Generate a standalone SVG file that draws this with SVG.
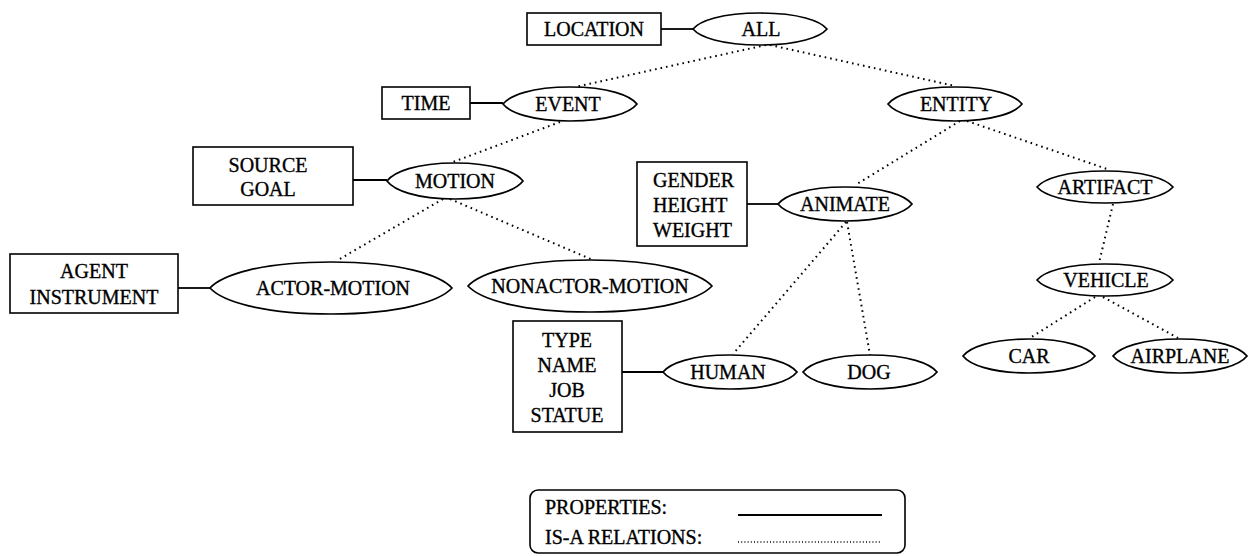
<svg xmlns="http://www.w3.org/2000/svg" width="1250" height="556" viewBox="0 0 1250 556">
<style>
text{font-family:"Liberation Serif","Times New Roman",serif;font-size:20px;fill:#000;stroke:#000;stroke-width:0.35}
.c{text-anchor:middle}
.box{fill:#fff;stroke:#000;stroke-width:1.6}
.lens{fill:#fff;stroke:#000;stroke-width:1.7}
.prop{stroke:#000;stroke-width:1.8;fill:none}
.isa{stroke:#000;stroke-width:2;stroke-dasharray:1.6 4;fill:none}
</style>
<rect width="1250" height="556" fill="#fff"/>
<g id="connectors">
<line class="isa" x1="766" y1="45" x2="575" y2="87"/>
<line class="isa" x1="770" y1="45" x2="955" y2="86"/>
<line class="isa" x1="560" y1="122" x2="453" y2="162"/>
<line class="isa" x1="960" y1="121" x2="857" y2="184"/>
<line class="isa" x1="967" y1="121" x2="1110" y2="170"/>
<line class="isa" x1="443" y1="199" x2="338" y2="260"/>
<line class="isa" x1="450" y1="199" x2="593" y2="260"/>
<line class="isa" x1="846" y1="222" x2="733" y2="354"/>
<line class="isa" x1="847" y1="222" x2="870" y2="355"/>
<line class="isa" x1="1113" y1="204" x2="1099" y2="263"/>
<line class="isa" x1="1095" y1="297" x2="1030" y2="338"/>
<line class="isa" x1="1103" y1="297" x2="1178" y2="338"/>
<line class="prop" x1="661" y1="29" x2="693" y2="29"/>
<line class="prop" x1="470" y1="103" x2="503" y2="103"/>
<line class="prop" x1="353" y1="180" x2="387" y2="180"/>
<line class="prop" x1="178" y1="288" x2="210" y2="288"/>
<line class="prop" x1="747" y1="204" x2="778" y2="204"/>
<line class="prop" x1="622" y1="372" x2="663" y2="372"/>
</g>
<g id="location"><rect class="box" x="527" y="13" width="134" height="32"/><text class="c" x="594" y="36">LOCATION</text></g>
<g id="all"><path class="lens" transform="translate(760,29)" d="M-67,0 C-60.3,-8 -38.9,-16 0,-16 C38.9,-16 60.3,-8 67,0 C60.3,8 38.9,16 0,16 C-38.9,16 -60.3,8 -67,0Z"/><text class="c" x="761" y="36">ALL</text></g>
<g id="time"><rect class="box" x="382" y="87" width="88" height="32"/><text class="c" x="426" y="110">TIME</text></g>
<g id="event"><path class="lens" transform="translate(570,104)" d="M-67,0 C-60.3,-8.5 -38.9,-17 0,-17 C38.9,-17 60.3,-8.5 67,0 C60.3,8.5 38.9,17 0,17 C-38.9,17 -60.3,8.5 -67,0Z"/><text class="c" x="568" y="111">EVENT</text></g>
<g id="entity"><path class="lens" transform="translate(955,104)" d="M-67,0 C-60.3,-8.5 -38.9,-17 0,-17 C38.9,-17 60.3,-8.5 67,0 C60.3,8.5 38.9,17 0,17 C-38.9,17 -60.3,8.5 -67,0Z"/><text class="c" x="956" y="111">ENTITY</text></g>
<g id="source-goal"><rect class="box" x="193" y="147" width="160" height="58"/><text class="c" x="268" y="172">SOURCE</text><text class="c" x="268" y="196">GOAL</text></g>
<g id="motion"><path class="lens" transform="translate(455,181)" d="M-68,0 C-61.2,-9 -39.4,-18 0,-18 C39.4,-18 61.2,-9 68,0 C61.2,9 39.4,18 0,18 C-39.4,18 -61.2,9 -68,0Z"/><text class="c" x="455" y="188">MOTION</text></g>
<g id="gender-height-weight"><rect class="box" x="637" y="162" width="110" height="84"/><text x="653" y="187">GENDER</text><text x="653" y="212">HEIGHT</text><text x="653" y="237">WEIGHT</text></g>
<g id="animate"><path class="lens" transform="translate(845,204)" d="M-67,0 C-60.3,-8.5 -38.9,-17 0,-17 C38.9,-17 60.3,-8.5 67,0 C60.3,8.5 38.9,17 0,17 C-38.9,17 -60.3,8.5 -67,0Z"/><text class="c" x="845" y="211">ANIMATE</text></g>
<g id="artifact"><path class="lens" transform="translate(1105,187)" d="M-68,0 C-61.2,-8 -39.4,-16 0,-16 C39.4,-16 61.2,-8 68,0 C61.2,8 39.4,16 0,16 C-39.4,16 -61.2,8 -68,0Z"/><text class="c" x="1105" y="194">ARTIFACT</text></g>
<g id="agent-instrument"><rect class="box" x="10" y="254" width="168" height="59"/><text class="c" x="94" y="278">AGENT</text><text class="c" x="94" y="304">INSTRUMENT</text></g>
<g id="actor-motion"><path class="lens" transform="translate(331,288)" d="M-121,0 C-108.9,-13 -70.2,-26 0,-26 C70.2,-26 108.9,-13 121,0 C108.9,13 70.2,26 0,26 C-70.2,26 -108.9,13 -121,0Z"/><text class="c" x="333" y="295">ACTOR-MOTION</text></g>
<g id="nonactor-motion"><path class="lens" transform="translate(590,286)" d="M-122,0 C-109.8,-13 -70.8,-26 0,-26 C70.8,-26 109.8,-13 122,0 C109.8,13 70.8,26 0,26 C-70.8,26 -109.8,13 -122,0Z"/><text class="c" x="590" y="293">NONACTOR-MOTION</text></g>
<g id="vehicle"><path class="lens" transform="translate(1105,280)" d="M-68,0 C-61.2,-8 -39.4,-16 0,-16 C39.4,-16 61.2,-8 68,0 C61.2,8 39.4,16 0,16 C-39.4,16 -61.2,8 -68,0Z"/><text class="c" x="1106" y="287">VEHICLE</text></g>
<g id="type-name-job-statue"><rect class="box" x="513" y="321" width="109" height="111"/><text class="c" x="567" y="347">TYPE</text><text class="c" x="567" y="372">NAME</text><text class="c" x="567" y="397">JOB</text><text class="c" x="567" y="422">STATUE</text></g>
<g id="human"><path class="lens" transform="translate(730,372)" d="M-67,0 C-60.3,-8.5 -38.9,-17 0,-17 C38.9,-17 60.3,-8.5 67,0 C60.3,8.5 38.9,17 0,17 C-38.9,17 -60.3,8.5 -67,0Z"/><text class="c" x="728" y="379">HUMAN</text></g>
<g id="dog"><path class="lens" transform="translate(870,372)" d="M-67,0 C-60.3,-8.5 -38.9,-17 0,-17 C38.9,-17 60.3,-8.5 67,0 C60.3,8.5 38.9,17 0,17 C-38.9,17 -60.3,8.5 -67,0Z"/><text class="c" x="869" y="379">DOG</text></g>
<g id="car"><path class="lens" transform="translate(1029,356)" d="M-66,0 C-59.4,-8.5 -38.3,-17 0,-17 C38.3,-17 59.4,-8.5 66,0 C59.4,8.5 38.3,17 0,17 C-38.3,17 -59.4,8.5 -66,0Z"/><text class="c" x="1029" y="363">CAR</text></g>
<g id="airplane"><path class="lens" transform="translate(1180,356)" d="M-67,0 C-60.3,-8.5 -38.9,-17 0,-17 C38.9,-17 60.3,-8.5 67,0 C60.3,8.5 38.9,17 0,17 C-38.9,17 -60.3,8.5 -67,0Z"/><text class="c" x="1180" y="363">AIRPLANE</text></g>
<g id="legend">
<rect x="530" y="490" width="375" height="63" rx="8" ry="8" fill="#fff" stroke="#000" stroke-width="1.6"/>
<text x="545" y="514">PROPERTIES:</text>
<text x="545" y="544">IS-A RELATIONS:</text>
<line x1="738" y1="515" x2="882" y2="515" stroke="#000" stroke-width="1.8"/>
<line x1="738" y1="542" x2="882" y2="542" stroke="#000" stroke-width="1.3" stroke-dasharray="1 2.2"/>
</g>
</svg>
